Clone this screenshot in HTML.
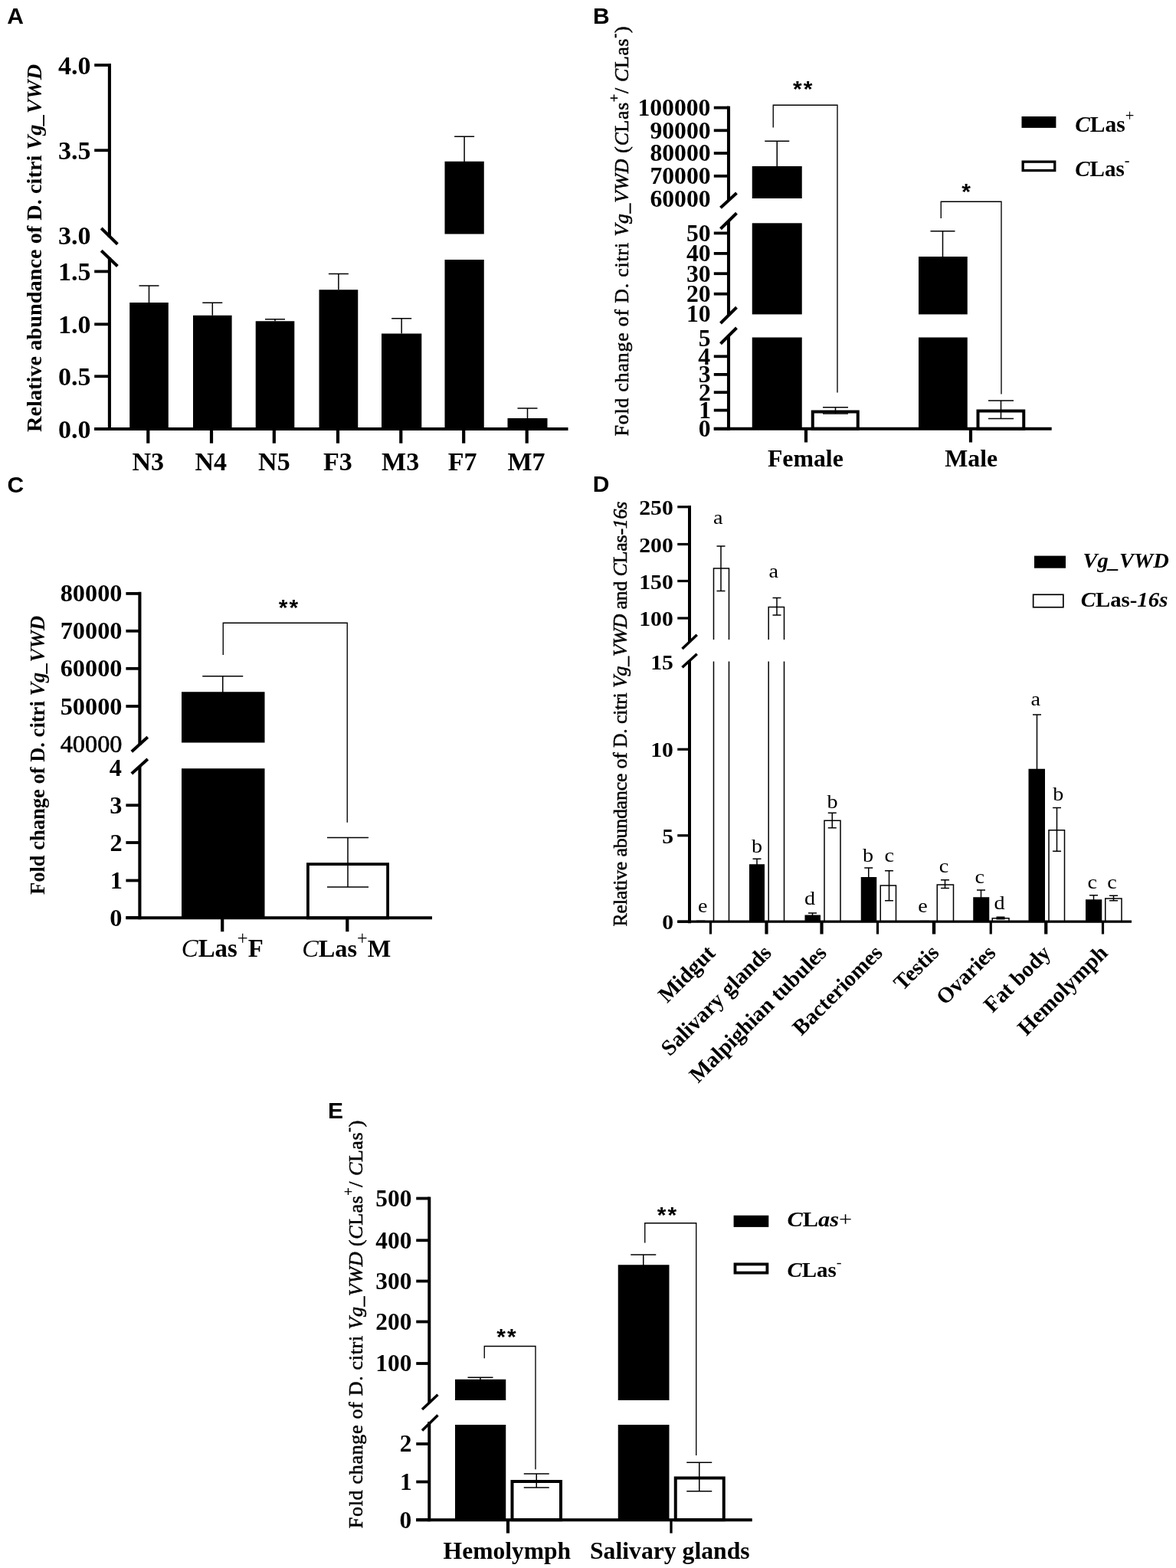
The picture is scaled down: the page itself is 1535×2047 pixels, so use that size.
<!DOCTYPE html>
<html lang="en">
<head>
<meta charset="utf-8">
<title>Figure</title>
<style>
html,body{margin:0;padding:0;background:#fff;}
body{width:1535px;height:2047px;overflow:hidden;}
svg{display:block;}
text{fill:#000;font-weight:bold;white-space:pre;}
text.s{font-family:'Liberation Serif','DejaVu Serif',serif;}
text.a{font-family:'Liberation Sans','DejaVu Sans',sans-serif;}
</style>
</head>
<body>
<svg width="1535" height="2047" viewBox="0 0 1535 2047" role="img" aria-label="Figure panels A to E: bar charts of Vg_VWD expression">
<rect x="0" y="0" width="1535" height="2047" fill="#ffffff"/>
<line x1="194.50" y1="373.00" x2="194.50" y2="395.00" stroke="#000" stroke-width="1.5" stroke-linecap="butt"/>
<line x1="181.50" y1="373.00" x2="207.50" y2="373.00" stroke="#000" stroke-width="1.5" stroke-linecap="butt"/>
<rect x="169.20" y="395.00" width="50.60" height="165.00" fill="#000"/>
<line x1="277.30" y1="395.25" x2="277.30" y2="411.75" stroke="#000" stroke-width="1.5" stroke-linecap="butt"/>
<line x1="264.30" y1="395.25" x2="290.30" y2="395.25" stroke="#000" stroke-width="1.5" stroke-linecap="butt"/>
<rect x="252.00" y="411.75" width="50.60" height="148.25" fill="#000"/>
<line x1="359.00" y1="416.75" x2="359.00" y2="419.25" stroke="#000" stroke-width="1.5" stroke-linecap="butt"/>
<line x1="346.00" y1="416.75" x2="372.00" y2="416.75" stroke="#000" stroke-width="1.5" stroke-linecap="butt"/>
<rect x="333.70" y="419.25" width="50.60" height="140.75" fill="#000"/>
<line x1="441.88" y1="357.50" x2="441.88" y2="378.25" stroke="#000" stroke-width="1.5" stroke-linecap="butt"/>
<line x1="428.88" y1="357.50" x2="454.88" y2="357.50" stroke="#000" stroke-width="1.5" stroke-linecap="butt"/>
<rect x="416.50" y="378.25" width="50.75" height="181.75" fill="#000"/>
<line x1="524.15" y1="415.75" x2="524.15" y2="435.50" stroke="#000" stroke-width="1.5" stroke-linecap="butt"/>
<line x1="511.15" y1="415.75" x2="537.15" y2="415.75" stroke="#000" stroke-width="1.5" stroke-linecap="butt"/>
<rect x="498.00" y="435.50" width="52.30" height="124.50" fill="#000"/>
<rect x="580.50" y="339.00" width="51.25" height="221.00" fill="#000"/>
<line x1="688.50" y1="533.00" x2="688.50" y2="546.00" stroke="#000" stroke-width="1.5" stroke-linecap="butt"/>
<line x1="675.50" y1="533.00" x2="701.50" y2="533.00" stroke="#000" stroke-width="1.5" stroke-linecap="butt"/>
<rect x="662.50" y="546.00" width="52.00" height="14.00" fill="#000"/>
<rect x="580.50" y="210.75" width="51.25" height="94.75" fill="#000"/>
<line x1="606.10" y1="178.25" x2="606.10" y2="211.00" stroke="#000" stroke-width="1.5" stroke-linecap="butt"/>
<line x1="593.10" y1="178.25" x2="619.10" y2="178.25" stroke="#000" stroke-width="1.5" stroke-linecap="butt"/>
<rect x="981.75" y="217.00" width="65.00" height="42.00" fill="#000"/>
<rect x="981.75" y="291.30" width="65.00" height="119.10" fill="#000"/>
<rect x="981.75" y="440.50" width="65.00" height="119.30" fill="#000"/>
<rect x="1199.00" y="335.00" width="63.75" height="75.40" fill="#000"/>
<rect x="1199.00" y="440.50" width="63.75" height="119.30" fill="#000"/>
<line x1="1014.25" y1="184.25" x2="1014.25" y2="217.50" stroke="#000" stroke-width="1.5" stroke-linecap="butt"/>
<line x1="998.25" y1="184.25" x2="1030.25" y2="184.25" stroke="#000" stroke-width="1.5" stroke-linecap="butt"/>
<line x1="1230.50" y1="301.75" x2="1230.50" y2="335.50" stroke="#000" stroke-width="1.5" stroke-linecap="butt"/>
<line x1="1214.50" y1="301.75" x2="1246.50" y2="301.75" stroke="#000" stroke-width="1.5" stroke-linecap="butt"/>
<rect x="1060.75" y="537.50" width="59.00" height="22.30" fill="#fff" stroke="#000" stroke-width="4"/>
<rect x="1276.50" y="536.50" width="59.75" height="23.30" fill="#fff" stroke="#000" stroke-width="4"/>
<line x1="1090.50" y1="531.75" x2="1090.50" y2="540.00" stroke="#000" stroke-width="1.5" stroke-linecap="butt"/>
<line x1="1074.00" y1="531.75" x2="1107.00" y2="531.75" stroke="#000" stroke-width="1.5" stroke-linecap="butt"/>
<line x1="1074.00" y1="540.00" x2="1107.00" y2="540.00" stroke="#000" stroke-width="1.5" stroke-linecap="butt"/>
<line x1="1306.50" y1="523.00" x2="1306.50" y2="546.50" stroke="#000" stroke-width="1.5" stroke-linecap="butt"/>
<line x1="1290.00" y1="523.00" x2="1323.00" y2="523.00" stroke="#000" stroke-width="1.5" stroke-linecap="butt"/>
<line x1="1290.00" y1="546.50" x2="1323.00" y2="546.50" stroke="#000" stroke-width="1.5" stroke-linecap="butt"/>
<polyline points="1009.25,166.5 1009.25,137.25 1093,137.25 1093,512.5" fill="none" stroke="#000" stroke-width="1.35"/>
<polyline points="1228.25,285 1228.25,263.25 1307,263.25 1307,514.5" fill="none" stroke="#000" stroke-width="1.35"/>
<rect x="1333.50" y="152.00" width="44.90" height="14.90" fill="#000"/>
<rect x="1335.15" y="211.15" width="41.60" height="11.40" fill="#fff" stroke="#000" stroke-width="3.3"/>
<rect x="237.00" y="903.25" width="108.50" height="66.25" fill="#000"/>
<rect x="237.00" y="1003.25" width="108.50" height="195.05" fill="#000"/>
<line x1="290.75" y1="882.75" x2="290.75" y2="904.00" stroke="#000" stroke-width="1.5" stroke-linecap="butt"/>
<line x1="264.25" y1="882.75" x2="317.25" y2="882.75" stroke="#000" stroke-width="1.5" stroke-linecap="butt"/>
<rect x="401.90" y="1128.15" width="104.20" height="70.25" fill="#fff" stroke="#000" stroke-width="3.8"/>
<line x1="454.00" y1="1093.50" x2="454.00" y2="1158.00" stroke="#000" stroke-width="1.5" stroke-linecap="butt"/>
<line x1="427.00" y1="1093.50" x2="481.00" y2="1093.50" stroke="#000" stroke-width="1.5" stroke-linecap="butt"/>
<line x1="427.00" y1="1158.00" x2="481.00" y2="1158.00" stroke="#000" stroke-width="1.5" stroke-linecap="butt"/>
<polyline points="291.25,855 291.25,813.25 453.25,813.25 453.25,1073.75" fill="none" stroke="#000" stroke-width="1.35"/>
<polyline points="931.5,835 931.5,742 951.5,742 951.5,835" fill="#fff" stroke="#000" stroke-width="1.5"/>
<line x1="931.50" y1="863.50" x2="931.50" y2="1203.25" stroke="#000" stroke-width="1.5" stroke-linecap="butt"/>
<line x1="951.50" y1="863.50" x2="951.50" y2="1203.25" stroke="#000" stroke-width="1.5" stroke-linecap="butt"/>
<polyline points="1003.2,835 1003.2,792.5 1023.5,792.5 1023.5,835" fill="#fff" stroke="#000" stroke-width="1.5"/>
<line x1="1003.20" y1="863.50" x2="1003.20" y2="1203.25" stroke="#000" stroke-width="1.5" stroke-linecap="butt"/>
<line x1="1023.50" y1="863.50" x2="1023.50" y2="1203.25" stroke="#000" stroke-width="1.5" stroke-linecap="butt"/>
<line x1="941.00" y1="713.00" x2="941.00" y2="771.50" stroke="#000" stroke-width="1.5" stroke-linecap="butt"/>
<line x1="935.50" y1="713.00" x2="946.50" y2="713.00" stroke="#000" stroke-width="1.5" stroke-linecap="butt"/>
<line x1="935.50" y1="771.50" x2="946.50" y2="771.50" stroke="#000" stroke-width="1.5" stroke-linecap="butt"/>
<line x1="1014.00" y1="780.50" x2="1014.00" y2="803.00" stroke="#000" stroke-width="1.5" stroke-linecap="butt"/>
<line x1="1008.50" y1="780.50" x2="1019.50" y2="780.50" stroke="#000" stroke-width="1.5" stroke-linecap="butt"/>
<line x1="1008.50" y1="803.00" x2="1019.50" y2="803.00" stroke="#000" stroke-width="1.5" stroke-linecap="butt"/>
<rect x="909.00" y="1201.60" width="11.50" height="1.65" fill="#000"/>
<rect x="978.00" y="1128.25" width="20.00" height="75.00" fill="#000"/>
<line x1="988.00" y1="1121.25" x2="988.00" y2="1129.00" stroke="#000" stroke-width="1.5" stroke-linecap="butt"/>
<line x1="982.50" y1="1121.25" x2="993.50" y2="1121.25" stroke="#000" stroke-width="1.5" stroke-linecap="butt"/>
<rect x="1050.50" y="1194.50" width="20.50" height="8.75" fill="#000"/>
<line x1="1060.50" y1="1192.00" x2="1060.50" y2="1195.00" stroke="#000" stroke-width="1.5" stroke-linecap="butt"/>
<line x1="1055.00" y1="1192.00" x2="1066.00" y2="1192.00" stroke="#000" stroke-width="1.5" stroke-linecap="butt"/>
<polyline points="1076,1203.25 1076,1071.25 1097,1071.25 1097,1203.25" fill="#fff" stroke="#000" stroke-width="1.5"/>
<line x1="1086.25" y1="1061.25" x2="1086.25" y2="1080.75" stroke="#000" stroke-width="1.5" stroke-linecap="butt"/>
<line x1="1080.75" y1="1061.25" x2="1091.75" y2="1061.25" stroke="#000" stroke-width="1.5" stroke-linecap="butt"/>
<line x1="1080.75" y1="1080.75" x2="1091.75" y2="1080.75" stroke="#000" stroke-width="1.5" stroke-linecap="butt"/>
<rect x="1123.75" y="1145.00" width="20.50" height="58.25" fill="#000"/>
<line x1="1133.75" y1="1133.00" x2="1133.75" y2="1146.00" stroke="#000" stroke-width="1.5" stroke-linecap="butt"/>
<line x1="1128.25" y1="1133.00" x2="1139.25" y2="1133.00" stroke="#000" stroke-width="1.5" stroke-linecap="butt"/>
<polyline points="1149.25,1203.25 1149.25,1156 1169.5,1156 1169.5,1203.25" fill="#fff" stroke="#000" stroke-width="1.5"/>
<line x1="1160.50" y1="1136.75" x2="1160.50" y2="1175.75" stroke="#000" stroke-width="1.5" stroke-linecap="butt"/>
<line x1="1155.00" y1="1136.75" x2="1166.00" y2="1136.75" stroke="#000" stroke-width="1.5" stroke-linecap="butt"/>
<line x1="1155.00" y1="1175.75" x2="1166.00" y2="1175.75" stroke="#000" stroke-width="1.5" stroke-linecap="butt"/>
<rect x="1200.75" y="1201.80" width="12.50" height="1.45" fill="#000"/>
<polyline points="1223.25,1203.25 1223.25,1155 1244.5,1155 1244.5,1203.25" fill="#fff" stroke="#000" stroke-width="1.5"/>
<line x1="1233.50" y1="1148.75" x2="1233.50" y2="1159.50" stroke="#000" stroke-width="1.5" stroke-linecap="butt"/>
<line x1="1228.00" y1="1148.75" x2="1239.00" y2="1148.75" stroke="#000" stroke-width="1.5" stroke-linecap="butt"/>
<line x1="1228.00" y1="1159.50" x2="1239.00" y2="1159.50" stroke="#000" stroke-width="1.5" stroke-linecap="butt"/>
<rect x="1270.25" y="1171.25" width="21.00" height="32.00" fill="#000"/>
<line x1="1280.50" y1="1162.00" x2="1280.50" y2="1172.00" stroke="#000" stroke-width="1.5" stroke-linecap="butt"/>
<line x1="1275.00" y1="1162.00" x2="1286.00" y2="1162.00" stroke="#000" stroke-width="1.5" stroke-linecap="butt"/>
<polyline points="1295.25,1203.25 1295.25,1198.75 1317,1198.75 1317,1203.25" fill="#fff" stroke="#000" stroke-width="1.5"/>
<line x1="1306.00" y1="1197.30" x2="1306.00" y2="1199.60" stroke="#000" stroke-width="1.6" stroke-linecap="butt"/>
<line x1="1300.50" y1="1197.30" x2="1311.50" y2="1197.30" stroke="#000" stroke-width="1.6" stroke-linecap="butt"/>
<line x1="1300.50" y1="1199.60" x2="1311.50" y2="1199.60" stroke="#000" stroke-width="1.6" stroke-linecap="butt"/>
<rect x="1342.50" y="1003.75" width="21.50" height="199.50" fill="#000"/>
<line x1="1353.50" y1="933.00" x2="1353.50" y2="1004.50" stroke="#000" stroke-width="1.5" stroke-linecap="butt"/>
<line x1="1348.00" y1="933.00" x2="1359.00" y2="933.00" stroke="#000" stroke-width="1.5" stroke-linecap="butt"/>
<polyline points="1369,1203.25 1369,1083.75 1389.5,1083.75 1389.5,1203.25" fill="#fff" stroke="#000" stroke-width="1.5"/>
<line x1="1379.50" y1="1054.50" x2="1379.50" y2="1111.25" stroke="#000" stroke-width="1.5" stroke-linecap="butt"/>
<line x1="1374.00" y1="1054.50" x2="1385.00" y2="1054.50" stroke="#000" stroke-width="1.5" stroke-linecap="butt"/>
<line x1="1374.00" y1="1111.25" x2="1385.00" y2="1111.25" stroke="#000" stroke-width="1.5" stroke-linecap="butt"/>
<rect x="1417.00" y="1174.25" width="21.25" height="29.00" fill="#000"/>
<line x1="1427.50" y1="1168.75" x2="1427.50" y2="1175.00" stroke="#000" stroke-width="1.5" stroke-linecap="butt"/>
<line x1="1422.00" y1="1168.75" x2="1433.00" y2="1168.75" stroke="#000" stroke-width="1.5" stroke-linecap="butt"/>
<polyline points="1442.75,1203.25 1442.75,1173 1464,1173 1464,1203.25" fill="#fff" stroke="#000" stroke-width="1.5"/>
<line x1="1453.50" y1="1169.25" x2="1453.50" y2="1175.75" stroke="#000" stroke-width="1.5" stroke-linecap="butt"/>
<line x1="1448.00" y1="1169.25" x2="1459.00" y2="1169.25" stroke="#000" stroke-width="1.5" stroke-linecap="butt"/>
<line x1="1448.00" y1="1175.75" x2="1459.00" y2="1175.75" stroke="#000" stroke-width="1.5" stroke-linecap="butt"/>
<rect x="1350.00" y="725.60" width="41.00" height="16.10" fill="#000"/>
<rect x="1348.65" y="776.25" width="39.20" height="16.50" fill="#fff" stroke="#000" stroke-width="1.7"/>
<rect x="594.00" y="1800.75" width="66.25" height="27.25" fill="#000"/>
<rect x="594.00" y="1860.00" width="66.25" height="124.20" fill="#000"/>
<rect x="806.75" y="1651.25" width="66.75" height="176.75" fill="#000"/>
<rect x="806.75" y="1860.00" width="66.75" height="124.20" fill="#000"/>
<line x1="627.00" y1="1798.25" x2="627.00" y2="1801.00" stroke="#000" stroke-width="1.5" stroke-linecap="butt"/>
<line x1="610.50" y1="1798.25" x2="643.50" y2="1798.25" stroke="#000" stroke-width="1.5" stroke-linecap="butt"/>
<line x1="839.75" y1="1638.00" x2="839.75" y2="1652.00" stroke="#000" stroke-width="1.5" stroke-linecap="butt"/>
<line x1="823.25" y1="1638.00" x2="856.25" y2="1638.00" stroke="#000" stroke-width="1.5" stroke-linecap="butt"/>
<rect x="668.50" y="1934.00" width="63.50" height="50.20" fill="#fff" stroke="#000" stroke-width="4"/>
<rect x="881.75" y="1929.50" width="63.00" height="54.70" fill="#fff" stroke="#000" stroke-width="4"/>
<line x1="700.25" y1="1924.00" x2="700.25" y2="1942.00" stroke="#000" stroke-width="1.5" stroke-linecap="butt"/>
<line x1="683.75" y1="1924.00" x2="716.75" y2="1924.00" stroke="#000" stroke-width="1.5" stroke-linecap="butt"/>
<line x1="683.75" y1="1942.00" x2="716.75" y2="1942.00" stroke="#000" stroke-width="1.5" stroke-linecap="butt"/>
<line x1="912.75" y1="1909.25" x2="912.75" y2="1946.75" stroke="#000" stroke-width="1.5" stroke-linecap="butt"/>
<line x1="896.25" y1="1909.25" x2="929.25" y2="1909.25" stroke="#000" stroke-width="1.5" stroke-linecap="butt"/>
<line x1="896.25" y1="1946.75" x2="929.25" y2="1946.75" stroke="#000" stroke-width="1.5" stroke-linecap="butt"/>
<polyline points="632.25,1773.25 632.25,1757.5 699,1757.5 699,1918.25" fill="none" stroke="#000" stroke-width="1.35"/>
<polyline points="841.75,1622.5 841.75,1596.75 908.75,1596.75 908.75,1900" fill="none" stroke="#000" stroke-width="1.35"/>
<rect x="957.60" y="1586.70" width="45.70" height="15.20" fill="#000"/>
<rect x="959.50" y="1650.40" width="41.90" height="11.20" fill="#fff" stroke="#000" stroke-width="3.8"/>
<line x1="142.90" y1="83.00" x2="142.90" y2="310.00" stroke="#000" stroke-width="4.1" stroke-linecap="butt"/>
<line x1="142.90" y1="336.00" x2="142.90" y2="562.00" stroke="#000" stroke-width="4.1" stroke-linecap="butt"/>
<line x1="123.20" y1="560.00" x2="741.50" y2="560.00" stroke="#000" stroke-width="4" stroke-linecap="butt"/>
<line x1="123.20" y1="85.00" x2="142.90" y2="85.00" stroke="#000" stroke-width="3.8" stroke-linecap="butt"/>
<line x1="123.20" y1="196.25" x2="142.90" y2="196.25" stroke="#000" stroke-width="3.8" stroke-linecap="butt"/>
<line x1="123.20" y1="354.40" x2="142.90" y2="354.40" stroke="#000" stroke-width="3.8" stroke-linecap="butt"/>
<line x1="123.20" y1="423.30" x2="142.90" y2="423.30" stroke="#000" stroke-width="3.8" stroke-linecap="butt"/>
<line x1="123.20" y1="491.30" x2="142.90" y2="491.30" stroke="#000" stroke-width="3.8" stroke-linecap="butt"/>
<line x1="123.20" y1="560.00" x2="142.90" y2="560.00" stroke="#000" stroke-width="3.8" stroke-linecap="butt"/>
<line x1="132.20" y1="298.00" x2="153.40" y2="318.70" stroke="#000" stroke-width="4.0" stroke-linecap="butt"/>
<line x1="132.20" y1="327.20" x2="153.40" y2="347.50" stroke="#000" stroke-width="4.0" stroke-linecap="butt"/>
<line x1="193.30" y1="560.00" x2="193.30" y2="578.70" stroke="#000" stroke-width="4.2" stroke-linecap="butt"/>
<line x1="276.00" y1="560.00" x2="276.00" y2="578.70" stroke="#000" stroke-width="4.2" stroke-linecap="butt"/>
<line x1="357.80" y1="560.00" x2="357.80" y2="578.70" stroke="#000" stroke-width="4.2" stroke-linecap="butt"/>
<line x1="441.00" y1="560.00" x2="441.00" y2="578.70" stroke="#000" stroke-width="4.2" stroke-linecap="butt"/>
<line x1="523.30" y1="560.00" x2="523.30" y2="578.70" stroke="#000" stroke-width="4.2" stroke-linecap="butt"/>
<line x1="605.20" y1="560.00" x2="605.20" y2="578.70" stroke="#000" stroke-width="4.2" stroke-linecap="butt"/>
<line x1="687.70" y1="560.00" x2="687.70" y2="578.70" stroke="#000" stroke-width="4.2" stroke-linecap="butt"/>
<line x1="951.00" y1="138.60" x2="951.00" y2="262.00" stroke="#000" stroke-width="4.1" stroke-linecap="butt"/>
<line x1="951.00" y1="288.00" x2="951.00" y2="412.00" stroke="#000" stroke-width="4.1" stroke-linecap="butt"/>
<line x1="951.00" y1="438.00" x2="951.00" y2="561.80" stroke="#000" stroke-width="4.1" stroke-linecap="butt"/>
<line x1="931.80" y1="559.80" x2="1372.70" y2="559.80" stroke="#000" stroke-width="4" stroke-linecap="butt"/>
<line x1="931.80" y1="140.60" x2="951.00" y2="140.60" stroke="#000" stroke-width="3.8" stroke-linecap="butt"/>
<line x1="931.80" y1="170.30" x2="951.00" y2="170.30" stroke="#000" stroke-width="3.8" stroke-linecap="butt"/>
<line x1="931.80" y1="200.00" x2="951.00" y2="200.00" stroke="#000" stroke-width="3.8" stroke-linecap="butt"/>
<line x1="931.80" y1="229.80" x2="951.00" y2="229.80" stroke="#000" stroke-width="3.8" stroke-linecap="butt"/>
<line x1="931.80" y1="304.40" x2="951.00" y2="304.40" stroke="#000" stroke-width="3.8" stroke-linecap="butt"/>
<line x1="931.80" y1="330.90" x2="951.00" y2="330.90" stroke="#000" stroke-width="3.8" stroke-linecap="butt"/>
<line x1="931.80" y1="357.20" x2="951.00" y2="357.20" stroke="#000" stroke-width="3.8" stroke-linecap="butt"/>
<line x1="931.80" y1="383.70" x2="951.00" y2="383.70" stroke="#000" stroke-width="3.8" stroke-linecap="butt"/>
<line x1="931.80" y1="465.30" x2="951.00" y2="465.30" stroke="#000" stroke-width="3.8" stroke-linecap="butt"/>
<line x1="931.80" y1="488.90" x2="951.00" y2="488.90" stroke="#000" stroke-width="3.8" stroke-linecap="butt"/>
<line x1="931.80" y1="512.20" x2="951.00" y2="512.20" stroke="#000" stroke-width="3.8" stroke-linecap="butt"/>
<line x1="931.80" y1="535.60" x2="951.00" y2="535.60" stroke="#000" stroke-width="3.8" stroke-linecap="butt"/>
<line x1="931.80" y1="559.80" x2="951.00" y2="559.80" stroke="#000" stroke-width="3.8" stroke-linecap="butt"/>
<line x1="940.50" y1="271.25" x2="961.50" y2="252.00" stroke="#000" stroke-width="4.0" stroke-linecap="butt"/>
<line x1="940.50" y1="298.75" x2="961.50" y2="278.25" stroke="#000" stroke-width="4.0" stroke-linecap="butt"/>
<line x1="940.50" y1="422.00" x2="961.50" y2="401.25" stroke="#000" stroke-width="4.0" stroke-linecap="butt"/>
<line x1="940.50" y1="448.75" x2="961.50" y2="428.00" stroke="#000" stroke-width="4.0" stroke-linecap="butt"/>
<line x1="1052.00" y1="559.80" x2="1052.00" y2="577.50" stroke="#000" stroke-width="4.2" stroke-linecap="butt"/>
<line x1="1267.00" y1="559.80" x2="1267.00" y2="577.50" stroke="#000" stroke-width="4.2" stroke-linecap="butt"/>
<line x1="182.40" y1="772.75" x2="182.40" y2="973.00" stroke="#000" stroke-width="4.1" stroke-linecap="butt"/>
<line x1="182.40" y1="1000.00" x2="182.40" y2="1200.30" stroke="#000" stroke-width="4.1" stroke-linecap="butt"/>
<line x1="164.40" y1="1198.30" x2="564.00" y2="1198.30" stroke="#000" stroke-width="4" stroke-linecap="butt"/>
<line x1="164.40" y1="774.90" x2="182.40" y2="774.90" stroke="#000" stroke-width="3.8" stroke-linecap="butt"/>
<line x1="164.40" y1="823.75" x2="182.40" y2="823.75" stroke="#000" stroke-width="3.8" stroke-linecap="butt"/>
<line x1="164.40" y1="872.80" x2="182.40" y2="872.80" stroke="#000" stroke-width="3.8" stroke-linecap="butt"/>
<line x1="164.40" y1="922.00" x2="182.40" y2="922.00" stroke="#000" stroke-width="3.8" stroke-linecap="butt"/>
<line x1="164.40" y1="1051.25" x2="182.40" y2="1051.25" stroke="#000" stroke-width="3.8" stroke-linecap="butt"/>
<line x1="164.40" y1="1100.00" x2="182.40" y2="1100.00" stroke="#000" stroke-width="3.8" stroke-linecap="butt"/>
<line x1="164.40" y1="1149.50" x2="182.40" y2="1149.50" stroke="#000" stroke-width="3.8" stroke-linecap="butt"/>
<line x1="164.40" y1="1198.00" x2="182.40" y2="1198.00" stroke="#000" stroke-width="3.8" stroke-linecap="butt"/>
<line x1="171.80" y1="981.30" x2="192.80" y2="962.30" stroke="#000" stroke-width="4.0" stroke-linecap="butt"/>
<line x1="171.80" y1="1010.00" x2="192.80" y2="991.00" stroke="#000" stroke-width="4.0" stroke-linecap="butt"/>
<line x1="290.20" y1="1198.30" x2="290.20" y2="1216.25" stroke="#000" stroke-width="4.2" stroke-linecap="butt"/>
<line x1="453.30" y1="1198.30" x2="453.30" y2="1216.25" stroke="#000" stroke-width="4.2" stroke-linecap="butt"/>
<line x1="900.00" y1="660.00" x2="900.00" y2="838.00" stroke="#000" stroke-width="4" stroke-linecap="butt"/>
<line x1="900.00" y1="862.00" x2="900.00" y2="1205.25" stroke="#000" stroke-width="4" stroke-linecap="butt"/>
<line x1="884.25" y1="1203.15" x2="1477.00" y2="1203.15" stroke="#000" stroke-width="3.1" stroke-linecap="butt"/>
<line x1="884.25" y1="661.75" x2="900.00" y2="661.75" stroke="#000" stroke-width="3.2" stroke-linecap="butt"/>
<line x1="884.25" y1="710.50" x2="900.00" y2="710.50" stroke="#000" stroke-width="3.2" stroke-linecap="butt"/>
<line x1="884.25" y1="758.50" x2="900.00" y2="758.50" stroke="#000" stroke-width="3.2" stroke-linecap="butt"/>
<line x1="884.25" y1="807.00" x2="900.00" y2="807.00" stroke="#000" stroke-width="3.2" stroke-linecap="butt"/>
<line x1="884.25" y1="978.25" x2="900.00" y2="978.25" stroke="#000" stroke-width="3.2" stroke-linecap="butt"/>
<line x1="884.25" y1="1090.75" x2="900.00" y2="1090.75" stroke="#000" stroke-width="3.2" stroke-linecap="butt"/>
<line x1="884.25" y1="1203.25" x2="900.00" y2="1203.25" stroke="#000" stroke-width="3.2" stroke-linecap="butt"/>
<line x1="890.50" y1="847.00" x2="909.75" y2="828.75" stroke="#000" stroke-width="3.5" stroke-linecap="butt"/>
<line x1="890.50" y1="871.25" x2="909.75" y2="853.75" stroke="#000" stroke-width="3.5" stroke-linecap="butt"/>
<line x1="927.50" y1="1203.25" x2="927.50" y2="1219.50" stroke="#000" stroke-width="3.2" stroke-linecap="butt"/>
<line x1="1000.50" y1="1203.25" x2="1000.50" y2="1219.50" stroke="#000" stroke-width="4.2" stroke-linecap="butt"/>
<line x1="1072.50" y1="1203.25" x2="1072.50" y2="1219.50" stroke="#000" stroke-width="4.2" stroke-linecap="butt"/>
<line x1="1145.50" y1="1203.25" x2="1145.50" y2="1219.50" stroke="#000" stroke-width="3.2" stroke-linecap="butt"/>
<line x1="1219.00" y1="1203.25" x2="1219.00" y2="1219.50" stroke="#000" stroke-width="4.4" stroke-linecap="butt"/>
<line x1="1293.25" y1="1203.25" x2="1293.25" y2="1219.50" stroke="#000" stroke-width="3.2" stroke-linecap="butt"/>
<line x1="1365.25" y1="1203.25" x2="1365.25" y2="1219.50" stroke="#000" stroke-width="4.2" stroke-linecap="butt"/>
<line x1="1439.50" y1="1203.25" x2="1439.50" y2="1219.50" stroke="#000" stroke-width="3.2" stroke-linecap="butt"/>
<line x1="560.30" y1="1562.50" x2="560.30" y2="1832.00" stroke="#000" stroke-width="4" stroke-linecap="butt"/>
<line x1="560.30" y1="1856.00" x2="560.30" y2="1986.20" stroke="#000" stroke-width="4" stroke-linecap="butt"/>
<line x1="543.25" y1="1984.20" x2="981.75" y2="1984.20" stroke="#000" stroke-width="4" stroke-linecap="butt"/>
<line x1="543.25" y1="1564.50" x2="560.30" y2="1564.50" stroke="#000" stroke-width="3.8" stroke-linecap="butt"/>
<line x1="543.25" y1="1619.25" x2="560.30" y2="1619.25" stroke="#000" stroke-width="3.8" stroke-linecap="butt"/>
<line x1="543.25" y1="1672.50" x2="560.30" y2="1672.50" stroke="#000" stroke-width="3.8" stroke-linecap="butt"/>
<line x1="543.25" y1="1725.50" x2="560.30" y2="1725.50" stroke="#000" stroke-width="3.8" stroke-linecap="butt"/>
<line x1="543.25" y1="1780.00" x2="560.30" y2="1780.00" stroke="#000" stroke-width="3.8" stroke-linecap="butt"/>
<line x1="543.25" y1="1885.00" x2="560.30" y2="1885.00" stroke="#000" stroke-width="3.8" stroke-linecap="butt"/>
<line x1="543.25" y1="1934.50" x2="560.30" y2="1934.50" stroke="#000" stroke-width="3.8" stroke-linecap="butt"/>
<line x1="543.25" y1="1984.20" x2="560.30" y2="1984.20" stroke="#000" stroke-width="3.8" stroke-linecap="butt"/>
<line x1="551.00" y1="1840.00" x2="571.50" y2="1820.75" stroke="#000" stroke-width="3.5" stroke-linecap="butt"/>
<line x1="551.00" y1="1867.50" x2="571.50" y2="1847.50" stroke="#000" stroke-width="3.5" stroke-linecap="butt"/>
<line x1="663.00" y1="1984.20" x2="663.00" y2="2001.60" stroke="#000" stroke-width="4.2" stroke-linecap="butt"/>
<line x1="876.00" y1="1984.20" x2="876.00" y2="2001.60" stroke="#000" stroke-width="3.3" stroke-linecap="butt"/>
<text class="a" transform="translate(9.25,31.3)" style="font-size:30.00px;">A</text>
<text class="s" transform="translate(75.95,96.6)" style="font-size:34.00px;">4.0</text>
<text class="s" transform="translate(75.95,207.85)" style="font-size:34.00px;">3.5</text>
<text class="s" transform="translate(75.95,319.1)" style="font-size:34.00px;">3.0</text>
<text class="s" transform="translate(75.95,366)" style="font-size:34.00px;">1.5</text>
<text class="s" transform="translate(75.95,434.9)" style="font-size:34.00px;">1.0</text>
<text class="s" transform="translate(75.95,502.9)" style="font-size:34.00px;">0.5</text>
<text class="s" transform="translate(75.95,571.6)" style="font-size:34.00px;">0.0</text>
<text class="s" transform="translate(172.38,613.6)" style="font-size:34.00px;">N3</text>
<text class="s" transform="translate(254.43,613.6)" style="font-size:34.00px;">N4</text>
<text class="s" transform="translate(337.1,613.6)" style="font-size:34.00px;">N5</text>
<text class="s" transform="translate(422,613.6)" style="font-size:34.00px;">F3</text>
<text class="s" transform="translate(498.05,613.6)" style="font-size:34.00px;">M3</text>
<text class="s" transform="translate(584.85,613.6)" style="font-size:34.00px;">F7</text>
<text class="s" transform="translate(662.52,613.6)" style="font-size:34.00px;">M7</text>
<text class="s" transform="translate(54.2,564.01) rotate(-90)" style="font-size:28.35px;">Relative abundance of D. citri <tspan style="font-style:italic">Vg_VWD</tspan></text>
<text class="a" transform="translate(774,30.8)" style="font-size:30.00px;">B</text>
<text class="s" transform="translate(832.4,150.9)" style="font-size:31.70px;">100000</text>
<text class="s" transform="translate(848.4,180.6)" style="font-size:31.70px;">90000</text>
<text class="s" transform="translate(848.4,210.3)" style="font-size:31.70px;">80000</text>
<text class="s" transform="translate(848.4,240.1)" style="font-size:31.70px;">70000</text>
<text class="s" transform="translate(848.4,269.8)" style="font-size:31.70px;">60000</text>
<text class="s" transform="translate(895.9,314.7)" style="font-size:31.70px;">50</text>
<text class="s" transform="translate(895.9,341.2)" style="font-size:31.70px;">40</text>
<text class="s" transform="translate(895.9,367.5)" style="font-size:31.70px;">30</text>
<text class="s" transform="translate(895.9,394)" style="font-size:31.70px;">20</text>
<text class="s" transform="translate(895.9,420.4)" style="font-size:31.70px;">10</text>
<text class="s" transform="translate(911.65,452)" style="font-size:31.70px;">5</text>
<text class="s" transform="translate(911.15,475.6)" style="font-size:31.70px;">4</text>
<text class="s" transform="translate(911.65,499.2)" style="font-size:31.70px;">3</text>
<text class="s" transform="translate(911.9,522.5)" style="font-size:31.70px;">2</text>
<text class="s" transform="translate(912.15,545.9)" style="font-size:31.70px;">1</text>
<text class="s" transform="translate(911.65,570.1)" style="font-size:31.70px;">0</text>
<text class="a" transform="translate(1035,126.2)" style="font-size:30.00px;letter-spacing:2.00px;">**</text>
<text class="a" transform="translate(1255.33,259.6)" style="font-size:30.00px;">*</text>
<text class="s" transform="translate(1001.9,608.6)" style="font-size:31.80px;">Female</text>
<text class="s" transform="translate(1233.25,608.6)" style="font-size:31.80px;">Male</text>
<text class="s" transform="translate(820.2,569.35) rotate(-90)" style="font-size:25.70px;font-weight:normal;letter-spacing:0.87px;stroke:#000;stroke-width:0.55px;">Fold change of D. citri</text>
<text class="s" transform="translate(820.2,308.5) rotate(-90)" style="font-size:25.70px;font-weight:normal;letter-spacing:0.77px;stroke:#000;stroke-width:0.55px;"><tspan style="font-style:italic">Vg_VWD</tspan> (<tspan style="font-style:italic">C</tspan>Las<tspan dy="-0.671em" style="font-size:0.7em;font-weight:normal">+</tspan><tspan dy="0.671em" style="font-size:0.7em">&#8203;</tspan>/ <tspan style="font-style:italic">C</tspan>Las<tspan dy="-0.671em" style="font-size:0.7em;font-weight:normal">-</tspan><tspan dy="0.671em" style="font-size:0.7em">&#8203;</tspan>)</text>
<text class="s" transform="translate(1403.16,171.6)" style="font-size:29.49px;"><tspan style="font-style:italic">C</tspan>Las<tspan dy="-0.671em" style="font-size:0.7em;font-weight:normal">+</tspan><tspan dy="0.671em" style="font-size:0.7em">&#8203;</tspan></text>
<text class="s" transform="translate(1403.17,229.7)" style="font-size:29.07px;"><tspan style="font-style:italic">C</tspan>Las<tspan dy="-0.671em" style="font-size:0.7em;font-weight:normal">-</tspan><tspan dy="0.671em" style="font-size:0.7em">&#8203;</tspan></text>
<text class="a" transform="translate(9.55,642.7)" style="font-size:30.00px;">C</text>
<text class="s" transform="translate(78.7,785.4)" style="font-size:32.30px;">80000</text>
<text class="s" transform="translate(78.7,834.25)" style="font-size:32.30px;">70000</text>
<text class="s" transform="translate(78.7,883.3)" style="font-size:32.30px;">60000</text>
<text class="s" transform="translate(78.7,932.5)" style="font-size:32.30px;">50000</text>
<text class="s" transform="translate(78.7,981.75)" style="font-size:32.30px;font-weight:normal;stroke:#000;stroke-width:0.6px;">40000</text>
<text class="s" transform="translate(142.7,1013.4)" style="font-size:32.30px;">4</text>
<text class="s" transform="translate(143.2,1061.75)" style="font-size:32.30px;">3</text>
<text class="s" transform="translate(143.45,1110.5)" style="font-size:32.30px;">2</text>
<text class="s" transform="translate(143.7,1160)" style="font-size:32.30px;">1</text>
<text class="s" transform="translate(143.2,1208.5)" style="font-size:32.30px;">0</text>
<text class="a" transform="translate(363.75,803.3)" style="font-size:30.00px;letter-spacing:2.00px;">**</text>
<text class="s" transform="translate(236.8,1249)" style="font-size:32.82px;"><tspan style="font-style:italic;font-weight:normal">C</tspan>Las<tspan dy="-0.667em" style="font-size:0.75em;font-weight:normal">+</tspan><tspan dy="0.667em" style="font-size:0.75em">&#8203;</tspan>F</text>
<text class="s" transform="translate(394.23,1249)" style="font-size:32.30px;"><tspan style="font-style:italic;font-weight:normal">C</tspan>Las<tspan dy="-0.667em" style="font-size:0.75em;font-weight:normal">+</tspan><tspan dy="0.667em" style="font-size:0.75em">&#8203;</tspan>M</text>
<text class="s" transform="translate(58.2,1167.97) rotate(-90) scale(0.9480,1)" style="font-size:28.00px;">Fold change of D. citri <tspan style="font-style:italic">Vg_VWD</tspan></text>
<text class="a" transform="translate(773.8,642.2)" style="font-size:30.00px;">D</text>
<text class="s" transform="translate(834.2,671.75) scale(1.0700,1)" style="font-size:27.80px;">250</text>
<text class="s" transform="translate(834.2,720.5) scale(1.0700,1)" style="font-size:27.80px;">200</text>
<text class="s" transform="translate(834.2,768.5) scale(1.0700,1)" style="font-size:27.80px;">150</text>
<text class="s" transform="translate(834.2,817) scale(1.0700,1)" style="font-size:27.80px;">100</text>
<text class="s" transform="translate(849.18,873.9) scale(1.0700,1)" style="font-size:27.80px;">15</text>
<text class="s" transform="translate(849.18,988.25) scale(1.0700,1)" style="font-size:27.80px;">10</text>
<text class="s" transform="translate(864.16,1100.75) scale(1.0700,1)" style="font-size:27.80px;">5</text>
<text class="s" transform="translate(864.16,1213.25) scale(1.0700,1)" style="font-size:27.80px;">0</text>
<text class="s" transform="translate(931.03,684.45) scale(1.1500,1)" style="font-size:24.50px;font-weight:normal;">a</text>
<text class="s" transform="translate(1003.53,754.45) scale(1.1500,1)" style="font-size:24.50px;font-weight:normal;">a</text>
<text class="s" transform="translate(910.92,1190.95) scale(1.1500,1)" style="font-size:24.50px;font-weight:normal;">e</text>
<text class="s" transform="translate(981.03,1113.45) scale(1.1500,1)" style="font-size:24.50px;font-weight:normal;">b</text>
<text class="s" transform="translate(1050.03,1180.7) scale(1.1500,1)" style="font-size:24.50px;font-weight:normal;">d</text>
<text class="s" transform="translate(1079.53,1055.2) scale(1.1500,1)" style="font-size:24.50px;font-weight:normal;">b</text>
<text class="s" transform="translate(1126.03,1125.2) scale(1.1500,1)" style="font-size:24.50px;font-weight:normal;">b</text>
<text class="s" transform="translate(1154.42,1125.2) scale(1.1500,1)" style="font-size:24.50px;font-weight:normal;">c</text>
<text class="s" transform="translate(1198.17,1191.45) scale(1.1500,1)" style="font-size:24.50px;font-weight:normal;">e</text>
<text class="s" transform="translate(1225.67,1138.95) scale(1.1500,1)" style="font-size:24.50px;font-weight:normal;">c</text>
<text class="s" transform="translate(1272.42,1153.45) scale(1.1500,1)" style="font-size:24.50px;font-weight:normal;">c</text>
<text class="s" transform="translate(1297.53,1187.2) scale(1.1500,1)" style="font-size:24.50px;font-weight:normal;">d</text>
<text class="s" transform="translate(1345.53,921.45) scale(1.1500,1)" style="font-size:24.50px;font-weight:normal;">a</text>
<text class="s" transform="translate(1374.28,1044.7) scale(1.1500,1)" style="font-size:24.50px;font-weight:normal;">b</text>
<text class="s" transform="translate(1419.42,1159.7) scale(1.1500,1)" style="font-size:24.50px;font-weight:normal;">c</text>
<text class="s" transform="translate(1445.17,1159.7) scale(1.1500,1)" style="font-size:24.50px;font-weight:normal;">c</text>
<text class="s" transform="translate(870.65,1310.35) rotate(-45)" style="font-size:28.80px;">Midgut</text>
<text class="s" transform="translate(874.36,1379.64) rotate(-45)" style="font-size:28.80px;">Salivary glands</text>
<text class="s" transform="translate(911.36,1414.64) rotate(-45)" style="font-size:28.80px;">Malpighian tubules</text>
<text class="s" transform="translate(1046.05,1352.95) rotate(-45)" style="font-size:28.80px;">Bacteriomes</text>
<text class="s" transform="translate(1178.06,1294.44) rotate(-45)" style="font-size:28.80px;">Testis</text>
<text class="s" transform="translate(1233.4,1313.35) rotate(-45)" style="font-size:28.80px;">Ovaries</text>
<text class="s" transform="translate(1295.5,1323.25) rotate(-45)" style="font-size:28.80px;">Fat body</text>
<text class="s" transform="translate(1339.87,1353.13) rotate(-45)" style="font-size:28.80px;">Hemolymph</text>
<text class="s" transform="translate(817.8,1209.45) rotate(-90)" style="font-size:25.80px;font-weight:normal;letter-spacing:-0.17px;stroke:#000;stroke-width:0.55px;">Relative abundance of D. citri <tspan style="font-style:italic">Vg_VWD</tspan> and <tspan style="font-style:italic">C</tspan>Las-<tspan style="font-style:italic">16s</tspan></text>
<text class="s" transform="translate(1413.5,740.8) scale(1.0638,1)" style="font-size:26.80px;font-style:italic;">Vg_VWD</text>
<text class="s" transform="translate(1410.83,792.3) scale(1.0737,1)" style="font-size:26.80px;"><tspan style="font-style:italic">C</tspan>Las-<tspan style="font-style:italic">16s</tspan></text>
<text class="a" transform="translate(428,1460.2)" style="font-size:30.00px;">E</text>
<text class="s" transform="translate(490.25,1574.8)" style="font-size:31.40px;">500</text>
<text class="s" transform="translate(490.25,1629.55)" style="font-size:31.40px;">400</text>
<text class="s" transform="translate(490.25,1682.8)" style="font-size:31.40px;">300</text>
<text class="s" transform="translate(490.25,1735.8)" style="font-size:31.40px;">200</text>
<text class="s" transform="translate(490.25,1790.3)" style="font-size:31.40px;">100</text>
<text class="s" transform="translate(521.75,1895.3)" style="font-size:31.40px;">2</text>
<text class="s" transform="translate(522,1944.8)" style="font-size:31.40px;">1</text>
<text class="s" transform="translate(521.5,1994.5)" style="font-size:31.40px;">0</text>
<text class="a" transform="translate(648.25,1755)" style="font-size:30.00px;letter-spacing:2.00px;">**</text>
<text class="a" transform="translate(857.75,1596.2)" style="font-size:30.00px;letter-spacing:2.00px;">**</text>
<text class="s" transform="translate(578.6,2034.8)" style="font-size:31.55px;">Hemolymph</text>
<text class="s" transform="translate(769.99,2034.8)" style="font-size:31.69px;">Salivary glands</text>
<text class="s" transform="translate(473.4,1995.15) rotate(-90)" style="font-size:26.00px;font-weight:normal;letter-spacing:0.69px;stroke:#000;stroke-width:0.55px;">Fold change of D. citri</text>
<text class="s" transform="translate(473.4,1735.5) rotate(-90)" style="font-size:26.00px;font-weight:normal;letter-spacing:0.55px;stroke:#000;stroke-width:0.55px;"><tspan style="font-style:italic">Vg_VWD</tspan> (<tspan style="font-style:italic">C</tspan>Las<tspan dy="-0.671em" style="font-size:0.7em;font-weight:normal">+</tspan><tspan dy="0.671em" style="font-size:0.7em">&#8203;</tspan>/ <tspan style="font-style:italic">C</tspan>Las<tspan dy="-0.671em" style="font-size:0.7em;font-weight:normal">-</tspan><tspan dy="0.671em" style="font-size:0.7em">&#8203;</tspan>)</text>
<text class="s" transform="translate(1027.4,1601.4) scale(1.1020,1)" style="font-size:27.60px;"><tspan style="font-style:italic">C</tspan>L<tspan style="font-style:italic">as</tspan><tspan style="font-weight:normal">+</tspan></text>
<text class="s" transform="translate(1027.45,1667) scale(1.0485,1)" style="font-size:27.60px;"><tspan style="font-style:italic">C</tspan>Las<tspan dy="-0.671em" style="font-size:0.7em;font-weight:normal">-</tspan><tspan dy="0.671em" style="font-size:0.7em">&#8203;</tspan></text>
</svg>
</body>
</html>
